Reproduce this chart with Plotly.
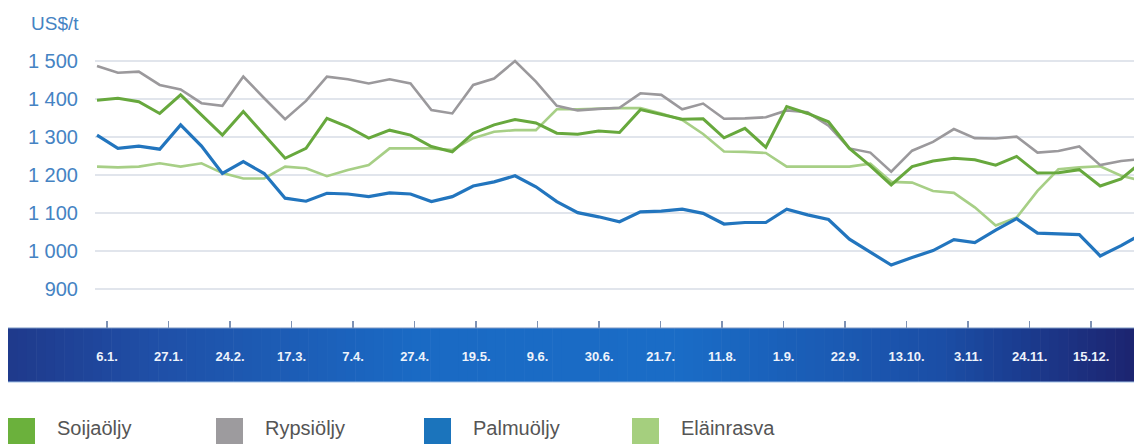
import plotly.graph_objects as go

# ---------------- data ----------------
series_names = ["Soijaöljy", "Rypsiöljy", "Palmuöljy", "Eläinrasva"]

soija = [1397, 1402, 1393, 1362, 1411, 1358, 1305, 1367, 1305, 1244,
         1270, 1349, 1327, 1297, 1318, 1305, 1275, 1261, 1310, 1332,
         1346, 1337, 1310, 1307, 1316, 1312, 1372, 1360, 1347, 1348,
         1298, 1323, 1273, 1380, 1362, 1340, 1270, 1224, 1174, 1222,
         1237, 1244, 1240, 1226, 1249, 1205, 1206, 1214, 1171, 1190,
         1235]

rypsi = [1487, 1469, 1472, 1437, 1425, 1389, 1382, 1459, 1402, 1347,
         1395, 1459, 1452, 1441, 1452, 1441, 1371, 1362, 1437, 1454,
         1500, 1446, 1382, 1370, 1374, 1377, 1415, 1411, 1373, 1388,
         1348, 1349, 1352, 1370, 1365, 1330, 1270, 1259, 1209, 1264,
         1287, 1321, 1297, 1296, 1301, 1259, 1263, 1275, 1226, 1237,
         1242]

palmu = [1305, 1270, 1276, 1268, 1332, 1276, 1204, 1235, 1204, 1139,
         1131, 1152, 1150, 1143, 1153, 1150, 1130, 1143, 1171, 1182,
         1198, 1169, 1130, 1101, 1090, 1077, 1103, 1105, 1110, 1099,
         1071, 1075, 1075, 1110, 1095, 1083, 1031, 997, 963, 983,
         1001, 1030, 1022, 1055, 1085, 1047, 1044, 1043, 987, 1014,
         1045]

elain = [1222, 1220, 1222, 1231, 1222, 1231, 1205, 1191, 1191, 1222,
         1218, 1197, 1213, 1226, 1270, 1270, 1270, 1266, 1297, 1314,
         1318, 1318, 1373, 1373, 1375, 1376, 1376, 1362, 1345, 1308,
         1262, 1261, 1258, 1222, 1222, 1222, 1222, 1230, 1182, 1180,
         1158, 1153, 1115, 1067, 1088, 1158, 1215, 1220, 1223, 1198,
         1185]

x_labels = ["6.1.", "27.1.", "24.2.", "17.3.", "7.4.", "27.4.", "19.5.", "9.6.",
            "30.6.", "21.7.", "11.8.", "1.9.", "22.9.", "13.10.", "3.11.",
            "24.11.", "15.12."]

y_ticks = [900, 1000, 1100, 1200, 1300, 1400, 1500]
y_tick_labels = ["900", "1 000", "1 100", "1 200", "1 300", "1 400", "1 500"]

unit_label = "US$/t"

# ---------------- styles / layout constants ----------------
W, H = 1134, 444
L, R, T, B = 95, 0, 40, 116
PW, PH = W - L - R, H - T - B

colors = {
    "Soijaöljy": "#67a83d",
    "Rypsiöljy": "#9b999c",
    "Palmuöljy": "#2275be",
    "Eläinrasva": "#a7cf86",
}
legend_colors = {
    "Soijaöljy": "#6bb13c",
    "Rypsiöljy": "#9d9b9e",
    "Palmuöljy": "#1b74bc",
    "Eläinrasva": "#a5cf7e",
}
widths = {"Soijaöljy": 3, "Rypsiöljy": 2.6, "Palmuöljy": 3.2, "Eläinrasva": 2.6}

X_RANGE = [-0.096, 49.617]
Y_RANGE = [797.4, 1555.3]
TICK_START, TICK_STEP = 0.48, 2.943

AXIS_BLUE = "#4583c3"
FONT = "Liberation Sans, Arial, sans-serif"


def px_x(p):
    return (p - L) / PW


def px_y(p):
    return (H - B - p) / PH


series = {"Soijaöljy": soija, "Rypsiöljy": rypsi, "Palmuöljy": palmu, "Eläinrasva": elain}
draw_order = ["Eläinrasva", "Rypsiöljy", "Soijaöljy", "Palmuöljy"]

fig = go.Figure()
for name in draw_order:
    vals = series[name]
    fig.add_trace(go.Scatter(
        x=list(range(len(vals))), y=vals, mode="lines", name=name,
        line=dict(color=colors[name], width=widths[name]),
        showlegend=False, hoverinfo="skip",
    ))

shapes = []
annotations = []

# gradient band behind x tick labels
stops = [(8, (31, 57, 139)), (160, (31, 80, 168)), (420, (26, 106, 196)),
         (680, (26, 108, 198)), (940, (27, 78, 166)), (1134, (28, 36, 112))]


def band_color(p):
    for (p0, c0), (p1, c1) in zip(stops[:-1], stops[1:]):
        if p0 <= p <= p1:
            t = (p - p0) / (p1 - p0)
            c = [round(a + (b - a) * t) for a, b in zip(c0, c1)]
            return "rgb(%d,%d,%d)" % tuple(c)
    return "rgb(%d,%d,%d)" % stops[-1][1]


band_top, band_bot = 328, 382
n_strips = 120
sw = (W - 8) / n_strips
for k in range(n_strips):
    p0 = 8 + k * sw
    shapes.append(dict(type="rect", xref="paper", yref="paper", layer="below",
                       x0=px_x(p0), x1=px_x(p0 + sw + 0.6),
                       y0=px_y(band_bot), y1=px_y(band_top),
                       fillcolor=band_color(p0 + sw / 2), line=dict(width=0)))
shapes.append(dict(type="line", xref="paper", yref="paper", layer="below",
                   x0=px_x(8), x1=px_x(W), y0=px_y(band_top), y1=px_y(band_top),
                   line=dict(color="#7d97c4", width=1.2)))
shapes.append(dict(type="line", xref="paper", yref="paper", layer="below",
                   x0=px_x(8), x1=px_x(W), y0=px_y(band_bot), y1=px_y(band_bot),
                   line=dict(color="#9fc0e6", width=1)))

# unit label
annotations.append(dict(text=unit_label, xref="paper", yref="paper",
                        x=px_x(29), y=px_y(23), xanchor="left", yanchor="middle",
                        showarrow=False, font=dict(family=FONT, size=19, color=AXIS_BLUE)))

# legend (squares + text)
leg_x = [8, 216, 424, 632]
for name, lx in zip(series_names, leg_x):
    shapes.append(dict(type="rect", xref="paper", yref="paper",
                       x0=px_x(lx), x1=px_x(lx + 27), y0=px_y(446), y1=px_y(418),
                       fillcolor=legend_colors[name], line=dict(width=0)))
    annotations.append(dict(text=name, xref="paper", yref="paper",
                            x=px_x(lx + 47), y=px_y(428), xanchor="left", yanchor="middle",
                            showarrow=False, font=dict(family=FONT, size=20, color="#555555")))

fig.update_layout(
    width=W, height=H,
    margin=dict(l=L, r=R, t=T, b=B, pad=0),
    paper_bgcolor="white", plot_bgcolor="white",
    shapes=shapes, annotations=annotations,
    showlegend=False,
    xaxis=dict(range=X_RANGE, showgrid=False, zeroline=False, showline=False,
               tickmode="array",
               tickvals=[TICK_START + k * TICK_STEP for k in range(len(x_labels))],
               ticktext=x_labels,
               ticks="inside", ticklen=7, tickwidth=1.5, tickcolor="#7f93b5",
               ticklabelstandoff=19,
               tickfont=dict(family=FONT, size=13, color="#eef3fb", weight="bold")),
    yaxis=dict(range=Y_RANGE, tickmode="array", tickvals=y_ticks, ticktext=y_tick_labels,
               showgrid=True, gridcolor="#e1e5ec", gridwidth=2, zeroline=False,
               showline=False, ticks="outside", ticklen=12,
               tickcolor="rgba(0,0,0,0)",
               tickfont=dict(family=FONT, size=20, color=AXIS_BLUE)),
)

fig.write_html("out.html",
               config={"displayModeBar": False, "staticPlot": True},
               post_script="document.body.style.margin='0';document.body.style.overflow='hidden';")
